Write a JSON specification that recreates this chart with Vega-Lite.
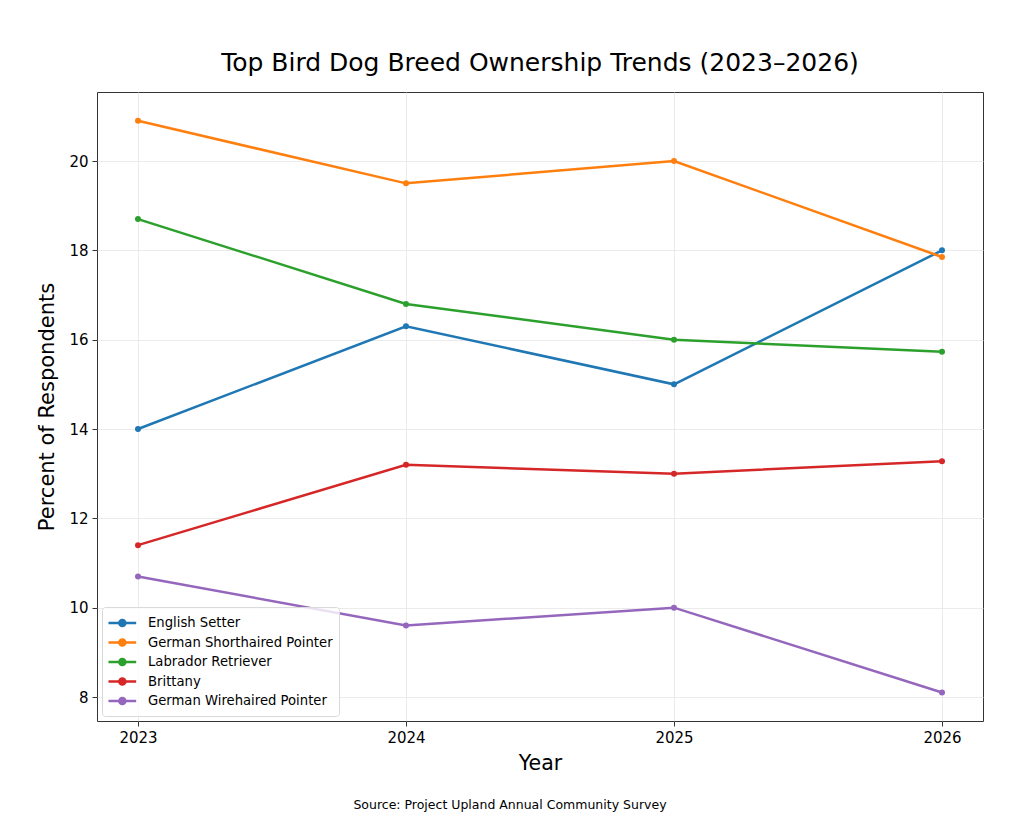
{
  "$schema": "https://vega.github.io/schema/vega-lite/v6.json",
  "background": "white",
  "padding": {"left": 36, "top": 50, "right": 5, "bottom": 5},
  "config": {
    "font": "DejaVu Sans",
    "view": {"stroke": "#333333", "strokeWidth": 1},
    "concat": {"spacing": 0}
  },
  "title": {
    "text": "Source: Project Upland Annual Community Survey",
    "orient": "bottom",
    "anchor": "middle",
    "fontSize": 12.5,
    "fontWeight": "normal",
    "color": "#000000",
    "offset": 25
  },
  "resolve": {"legend": {"color": "independent"}},
  "vconcat": [
    {
      "width": 886,
      "height": 629,
      "title": {
        "text": "Top Bird Dog Breed Ownership Trends (2023–2026)",
        "fontSize": 25,
        "fontWeight": "normal",
        "color": "#000000",
        "offset": 16
      },
      "data": {
        "values": [
          {"year": 2023, "breed": "English Setter", "pct": 14.0},
          {"year": 2024, "breed": "English Setter", "pct": 16.3},
          {"year": 2025, "breed": "English Setter", "pct": 15.0},
          {"year": 2026, "breed": "English Setter", "pct": 18.0},
          {"year": 2023, "breed": "German Shorthaired Pointer", "pct": 20.9},
          {"year": 2024, "breed": "German Shorthaired Pointer", "pct": 19.5},
          {"year": 2025, "breed": "German Shorthaired Pointer", "pct": 20.0},
          {"year": 2026, "breed": "German Shorthaired Pointer", "pct": 17.85},
          {"year": 2023, "breed": "Labrador Retriever", "pct": 18.7},
          {"year": 2024, "breed": "Labrador Retriever", "pct": 16.8},
          {"year": 2025, "breed": "Labrador Retriever", "pct": 16.0},
          {"year": 2026, "breed": "Labrador Retriever", "pct": 15.73},
          {"year": 2023, "breed": "Brittany", "pct": 11.4},
          {"year": 2024, "breed": "Brittany", "pct": 13.2},
          {"year": 2025, "breed": "Brittany", "pct": 13.0},
          {"year": 2026, "breed": "Brittany", "pct": 13.28},
          {"year": 2023, "breed": "German Wirehaired Pointer", "pct": 10.7},
          {"year": 2024, "breed": "German Wirehaired Pointer", "pct": 9.6},
          {"year": 2025, "breed": "German Wirehaired Pointer", "pct": 10.0},
          {"year": 2026, "breed": "German Wirehaired Pointer", "pct": 8.1}
        ]
      },
      "mark": {"type": "line", "strokeWidth": 2.5, "point": {"size": 36, "filled": true, "opacity": 1}},
      "encoding": {
        "x": {
          "field": "year",
          "type": "quantitative",
          "scale": {"domain": [2022.847, 2026.153], "nice": false, "zero": false},
          "axis": {
            "values": [2023, 2024, 2025, 2026],
            "format": "d",
            "title": "Year",
            "titleFontSize": 20.5,
            "titleFontWeight": "normal",
            "titleColor": "#000000",
            "titlePadding": 8,
            "labelFontSize": 15,
            "labelColor": "#000000",
            "labelPadding": 4,
            "tickColor": "#333333",
            "tickSize": 5,
            "domain": false,
            "grid": true,
            "gridColor": "#e6e6e6",
            "gridWidth": 0.8,
            "labelFlush": false
          }
        },
        "y": {
          "field": "pct",
          "type": "quantitative",
          "scale": {"domain": [7.463, 21.545], "nice": false, "zero": false},
          "axis": {
            "values": [8, 10, 12, 14, 16, 18, 20],
            "title": "Percent of Respondents",
            "titleFontSize": 21,
            "titleFontWeight": "normal",
            "titleColor": "#000000",
            "titlePadding": 11,
            "labelFontSize": 15,
            "labelColor": "#000000",
            "labelPadding": 4,
            "tickColor": "#333333",
            "tickSize": 5,
            "domain": false,
            "grid": true,
            "gridColor": "#e6e6e6",
            "gridWidth": 0.8
          }
        },
        "color": {
          "field": "breed",
          "type": "nominal",
          "scale": {
            "domain": ["English Setter", "German Shorthaired Pointer", "Labrador Retriever", "Brittany", "German Wirehaired Pointer"],
            "range": ["#1f77b4", "#ff7f0e", "#2ca02c", "#d62728", "#9467bd"]
          },
          "legend": {
            "title": null,
            "orient": "bottom-left",
            "offset": 5,
            "labelFontSize": 13.2,
            "labelColor": "#000000",
            "labelLimit": 0,
            "labelOffset": 20,
            "symbolType": "M-1.1,0H2.1M0.15,0a0.35,0.35 0 1,0 0.7,0a0.35,0.35 0 1,0 -0.7,0",
            "symbolSize": 300,
            "symbolStrokeWidth": 2.5,
            "rowPadding": 0.5,
            "padding": 6,
            "fillColor": "rgba(255,255,255,0.8)",
            "strokeColor": "#d9d9d9",
            "cornerRadius": 3
          }
        }
      }
    }
  ]
}
